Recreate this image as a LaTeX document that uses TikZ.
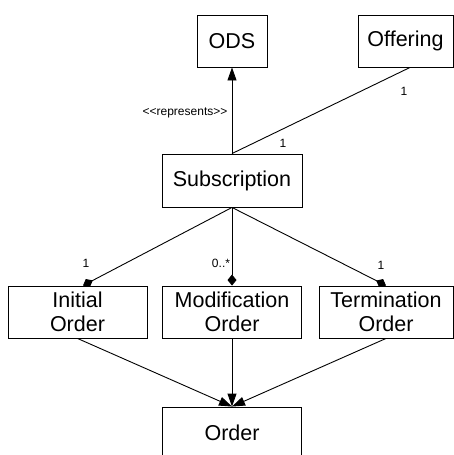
\documentclass[tikz,border=0pt]{standalone}
\usepackage{fontspec}
\setmainfont{Liberation Sans}
\usetikzlibrary{arrows.meta}
\begin{document}
\begin{tikzpicture}[x=1pt,y=-1pt,
  box/.style={draw=black, line width=0.9pt, fill=white, inner sep=0pt, align=center,
    minimum height=52pt, font=\fontsize{21.5}{24}\selectfont},
  conn/.style={draw=black, line width=0.9pt},
  lbl/.style={inner sep=0pt, font=\fontsize{12}{14}\selectfont},
  gen/.style={conn, -{Triangle[length=13pt,width=9pt]}},
  agg/.style={conn, -{Diamond[length=11pt,width=9pt]}}]
  \useasboundingbox (0,0) rectangle (454,455);

  % classes
  \node[box, minimum width=70pt]  (ods)  at (232,41)    {ODS};
  \node[box, minimum width=95pt]  (off)  at (405.5,41)  {Offering};
  \node[box, minimum width=140pt, minimum height=53pt] (sub) at (232,180.5) {Subscription};
  \node[box, minimum width=139pt] (init) at (77.5,312)  {Initial\\Order};
  \node[box, minimum width=139pt] (mod)  at (232,312)   {Modification\\Order};
  \node[box, minimum width=134pt] (term) at (386,312)   {Termination\\Order};
  \node[box, minimum width=139pt] (ord)  at (232,433)   {Order};

  % associations
  \draw[gen] (sub.north) -- (ods.south);
  \draw[conn] (sub.north) -- ([xshift=4.5pt]off.south);
  \draw[agg] (sub.south) -- ([xshift=5.5pt]init.north);
  \draw[agg] (sub.south) -- (mod.north);
  \draw[agg] (sub.south) -- (term.north);

  % specialisations
  \draw[gen] (init.south) -- (ord.north);
  \draw[gen] (mod.south) -- (ord.north);
  \draw[gen] (term.south) -- (ord.north);

  % multiplicities and stereotype
  \node[lbl] (l1) at (185,113) {<{}<represents>{}>};
  \node[lbl] (l2) at (404,91)  {1};
  \node[lbl] (l3) at (283,143) {1};
  \node[lbl] (l4) at (86,263)  {1};
  \node[lbl] (l5) at (221,263) {0..*};
  \node[lbl] (l6) at (381,265) {1};
\end{tikzpicture}
\end{document}
